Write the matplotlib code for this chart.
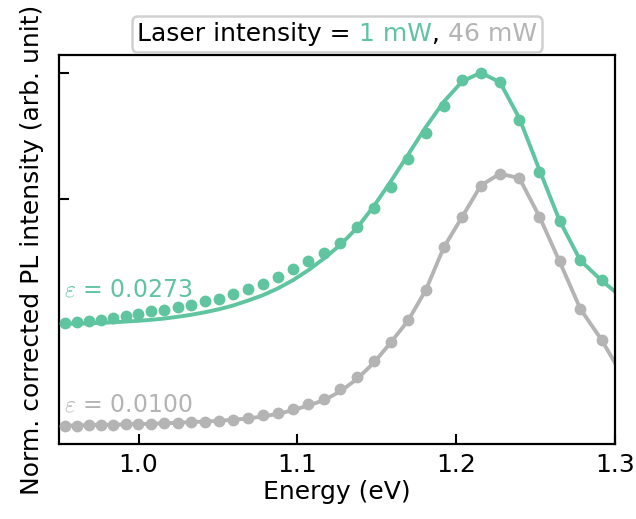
import numpy as np
import matplotlib
matplotlib.use('Agg')
import matplotlib.pyplot as plt
from matplotlib.offsetbox import AnchoredOffsetbox, HPacker, TextArea

plt.rcParams['font.family'] = ['DejaVu Sans']
plt.rcParams['mathtext.fontset'] = 'cm'

# Messpunkte (alle 10 nm, in eV umgerechnet)
energie = [0.9537, 0.9611, 0.9686, 0.9763, 0.9840, 0.9919, 0.9999, 1.0080,
           1.0163, 1.0247, 1.0332, 1.0419, 1.0507, 1.0597, 1.0688, 1.0781,
           1.0876, 1.0972, 1.1070, 1.1170, 1.1271, 1.1375, 1.1480, 1.1587,
           1.1697, 1.1808, 1.1922, 1.2037, 1.2155, 1.2276, 1.2398, 1.2524,
           1.2651, 1.2782, 1.2915]

pl_1mw = [0.010, 0.014, 0.018, 0.021, 0.028, 0.037, 0.045, 0.054, 0.061,
          0.070, 0.080, 0.094, 0.103, 0.123, 0.143, 0.161, 0.192, 0.221,
          0.254, 0.285, 0.325, 0.388, 0.463, 0.546, 0.658, 0.762, 0.868,
          0.971, 1.000, 0.962, 0.812, 0.608, 0.414, 0.256, 0.177]

pl_46mw = [0.002, 0.002, 0.005, 0.005, 0.005, 0.008, 0.008, 0.009, 0.012,
           0.014, 0.018, 0.018, 0.021, 0.025, 0.032, 0.042, 0.052, 0.069,
           0.089, 0.109, 0.145, 0.193, 0.256, 0.333, 0.421, 0.540, 0.711,
           0.830, 0.953, 1.000, 0.982, 0.830, 0.652, 0.464, 0.342]

# Fit-Kurven
fit_energie = [0.95] + energie + [1.30]

fit_1mw = [0.004, 0.005, 0.006, 0.007, 0.009, 0.011, 0.014, 0.017, 0.021,
           0.026, 0.033, 0.041, 0.051, 0.063, 0.078, 0.097, 0.118, 0.145,
           0.178, 0.218, 0.265, 0.318, 0.385, 0.470, 0.568, 0.675, 0.784,
           0.885, 0.965, 1.000, 0.962, 0.819, 0.615, 0.414, 0.256, 0.177,
           0.133]

fit_46mw = [0.001, 0.002, 0.002, 0.004, 0.005, 0.005, 0.007, 0.008, 0.009,
            0.011, 0.013, 0.016, 0.018, 0.021, 0.025, 0.030, 0.038, 0.048,
            0.063, 0.082, 0.103, 0.138, 0.186, 0.250, 0.330, 0.418, 0.538,
            0.708, 0.828, 0.953, 1.000, 0.982, 0.830, 0.652, 0.464, 0.342,
            0.250]

eps_werte = ['0.0273', '0.0100']
leistung = ['1 mW', '46 mW']
farben = ['#5fc4a0', '#b4b4b4']
versatz = [0.0, -0.4]

fig = plt.figure(figsize=(6.36, 5.19), dpi=100)
ax = fig.add_axes([0.093, 0.145, 0.874, 0.749])

daten = [(pl_1mw, fit_1mw), (pl_46mw, fit_46mw)]
for (pl, fit), farbe, dy in zip(daten, farben, versatz):
    ax.plot(fit_energie, np.array(fit) + dy, color=farbe, lw=2.8, zorder=2,
            solid_joinstyle='round')
    ax.plot(energie, np.array(pl) + dy, 'o', color=farbe, ms=8.5,
            mec='none', zorder=3)

ax.text(0.953, 0.14, r'$\varepsilon$ = ' + eps_werte[0], color=farben[0],
        fontsize=17, va='center', ha='left')
ax.text(0.953, -0.316, r'$\varepsilon$ = ' + eps_werte[1], color=farben[1],
        fontsize=17, va='center', ha='left')

ax.set_xlim(0.95, 1.30)
ax.set_ylim(-0.47, 1.07)
ax.set_xticks([1.0, 1.1, 1.2, 1.3])
ax.set_xticklabels(['1.0', '1.1', '1.2', '1.3'])
ax.set_yticks([0.5, 1.0])
ax.set_yticklabels([])
ax.tick_params(direction='in', length=7, width=1.5, labelsize=18, pad=7,
               top=False, right=False)
for s in ax.spines.values():
    s.set_linewidth(1.6)

ax.set_xlabel('Energy (eV)', fontsize=18, labelpad=2)
ax.set_ylabel('Norm. corrected PL intensity (arb. unit)', fontsize=18,
              labelpad=4)

# Titel mit farbigen Teilen
teile = [TextArea('Laser intensity = ', textprops=dict(color='black', fontsize=18)),
         TextArea(leistung[0], textprops=dict(color=farben[0], fontsize=18)),
         TextArea(', ', textprops=dict(color='black', fontsize=18)),
         TextArea(leistung[1], textprops=dict(color=farben[1], fontsize=18))]
titel = AnchoredOffsetbox(loc='lower center', child=HPacker(children=teile, pad=0, sep=0),
                          bbox_to_anchor=(0.5, 1.0), bbox_transform=ax.transAxes,
                          frameon=True, pad=0.2, borderpad=0.45)
titel.patch.set_boxstyle('round,pad=0.2,rounding_size=0.4')
titel.patch.set_edgecolor('#d0d0d0')
titel.patch.set_linewidth(1.8)
ax.add_artist(titel)

fig.savefig('out.png', dpi=100)
